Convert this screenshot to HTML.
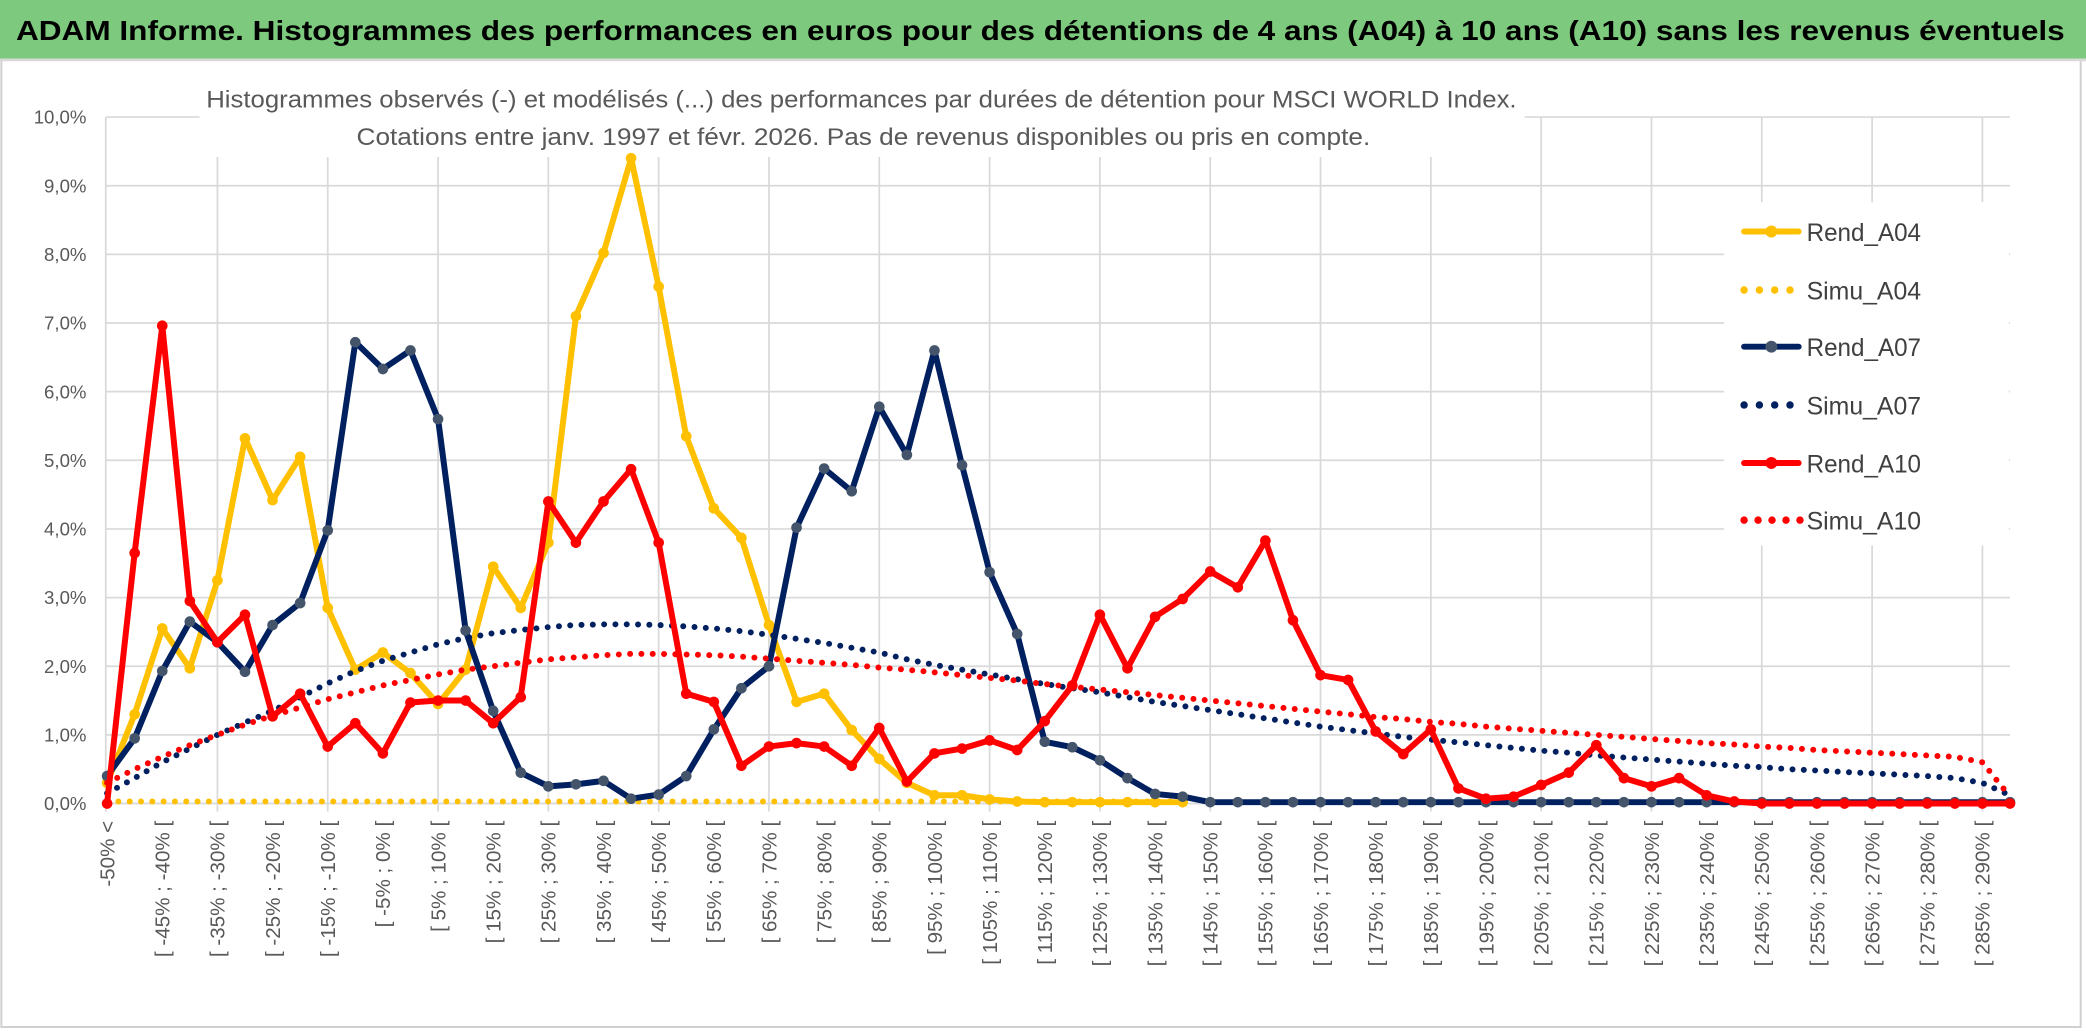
<!DOCTYPE html>
<html><head><meta charset="utf-8"><title>ADAM Informe histogrammes</title>
<style>
html,body{margin:0;padding:0;background:#fff;}
svg{display:block;}
text{font-family:"Liberation Sans",sans-serif;}
</style></head>
<body>
<svg id="chart" width="2086" height="1031" viewBox="0 0 1568 775" preserveAspectRatio="none" xmlns="http://www.w3.org/2000/svg">
  <rect x="0" y="0" width="1568" height="775" fill="#ffffff"/>
  <rect x="1" y="45" width="1563" height="727" fill="#fff" stroke="#d0d0d0" stroke-width="1.5"/>
  <rect x="0" y="0" width="1568" height="45" fill="#7dc97d"/>
  <line x1="0" y1="45" x2="1568" y2="45" stroke="#d9d9d9" stroke-width="2"/>
  <text x="12" y="30" font-size="21" font-weight="bold" fill="#000" textLength="1540" lengthAdjust="spacingAndGlyphs">ADAM Informe. Histogrammes des performances en euros pour des détentions de 4 ans (A04) à 10 ans (A10) sans les revenus éventuels</text>
  <g id="grid"></g>
  <rect x="150" y="58" width="996" height="60" fill="#fff"/>
  <text x="155" y="81" font-size="18" fill="#595959" textLength="985" lengthAdjust="spacingAndGlyphs">Histogrammes observés (-) et modélisés (...) des performances par durées de détention pour MSCI WORLD Index.</text>
  <text x="268" y="109" font-size="18" fill="#595959" textLength="762" lengthAdjust="spacingAndGlyphs">Cotations entre janv. 1997 et févr. 2026. Pas de revenus disponibles ou pris en compte.</text>
  <g id="axes"></g>
  <g id="series"></g>
  <g id="legend"></g>
</svg>
<script>
const categories = [];
categories.push("-50% <");
for (let i = 1; i < 70; i++) { const a = -50 + 5 * (i - 1); categories.push("[ " + a + "% ; " + (a + 5) + "% ["); }

const yTicks = ["0,0%","1,0%","2,0%","3,0%","4,0%","5,0%","6,0%","7,0%","8,0%","9,0%","10,0%"];

const rendA04 = [0.3,1.3,2.55,1.97,3.25,5.32,4.42,5.05,2.85,1.95,2.2,1.9,1.45,1.95,3.45,2.85,3.8,7.1,8.02,9.4,7.53,5.35,4.3,3.87,2.6,1.48,1.6,1.07,0.65,0.3,0.12,0.12,0.06,0.03,0.02,0.02,0.02,0.02,0.02,0.02];
const simuA04 = [0.03,0.03,0.03,0.03,0.03,0.03,0.03,0.03,0.03,0.03,0.03,0.03,0.03,0.03,0.03,0.03,0.03,0.03,0.03,0.03,0.03,0.03,0.03,0.03,0.03,0.03,0.03,0.03,0.03,0.03,0.03,0.03,0.03,0.03,0.03,0.03,0.03,0.03,0.03,0.03];
const rendA07 = [0.4,0.95,1.93,2.65,2.35,1.92,2.6,2.92,3.98,6.72,6.33,6.6,5.6,2.52,1.35,0.45,0.25,0.28,0.33,0.07,0.13,0.4,1.08,1.68,2.0,4.02,4.88,4.55,5.78,5.08,6.6,4.93,3.37,2.47,0.9,0.82,0.63,0.37,0.14,0.1,0.02,0.02,0.02,0.02,0.02,0.02,0.02,0.02,0.02,0.02,0.02,0.02,0.02,0.02,0.02,0.02,0.02,0.02,0.02,0.02,0.02,0.02,0.02,0.02,0.02,0.02,0.02,0.02,0.02,0.02];
const simuA07 = [0.15,0.37,0.6,0.8,1.0,1.18,1.35,1.55,1.75,1.93,2.08,2.2,2.32,2.41,2.48,2.53,2.57,2.6,2.61,2.61,2.6,2.58,2.55,2.51,2.46,2.4,2.34,2.27,2.2,2.1,2.02,1.95,1.88,1.81,1.74,1.68,1.62,1.55,1.48,1.42,1.36,1.3,1.24,1.18,1.12,1.07,1.02,0.97,0.93,0.89,0.85,0.81,0.77,0.74,0.7,0.67,0.64,0.61,0.58,0.55,0.53,0.5,0.48,0.46,0.44,0.42,0.4,0.37,0.3,0.12];
const rendA10 = [0,3.65,6.96,2.95,2.35,2.75,1.27,1.6,0.83,1.17,0.73,1.47,1.5,1.5,1.17,1.55,4.4,3.8,4.4,4.87,3.8,1.6,1.48,0.55,0.83,0.88,0.83,0.55,1.1,0.32,0.73,0.8,0.92,0.78,1.2,1.72,2.75,1.97,2.72,2.98,3.38,3.15,3.83,2.67,1.87,1.8,1.05,0.72,1.08,0.22,0.07,0.1,0.27,0.45,0.85,0.37,0.25,0.37,0.12,0.03,0,0,0,0,0,0,0,0,0,0];
const simuA10 = [0.3,0.5,0.68,0.85,1.0,1.15,1.28,1.4,1.52,1.62,1.72,1.8,1.88,1.95,2.0,2.05,2.1,2.13,2.16,2.18,2.18,2.17,2.16,2.14,2.11,2.08,2.05,2.02,1.98,1.95,1.91,1.87,1.83,1.79,1.74,1.7,1.66,1.62,1.58,1.54,1.5,1.46,1.42,1.38,1.34,1.3,1.26,1.23,1.19,1.16,1.12,1.09,1.06,1.03,1.0,0.97,0.94,0.91,0.88,0.86,0.83,0.81,0.78,0.76,0.74,0.72,0.7,0.68,0.6,0.1];

const NS = "http://www.w3.org/2000/svg";
const X0 = 80.5, XSTEP = 20.73, Y0 = 604, YSTEP = 51.6;
function xs(i) { return X0 + i * XSTEP; }
function ys(v) { return Y0 - v * YSTEP; }
function mk(tag, attrs, parent) {
  const e = document.createElementNS(NS, tag);
  for (const k in attrs) e.setAttribute(k, attrs[k]);
  parent.appendChild(e);
  return e;
}

const grid = document.getElementById("grid");
const axes = document.getElementById("axes");
const xEnd = xs(categories.length - 1);
for (let t = 0; t < yTicks.length; t++) {
  const gl = mk("line", {x1: X0 - 1, x2: xEnd, y1: ys(t), y2: ys(t), stroke: "#d9d9d9", "stroke-width": 1.3}, grid);
  
  
  const lb = mk("text", {x: 65, y: ys(t) + 5, "text-anchor": "end", "font-size": 14, fill: "#595959"}, axes);
  lb.textContent = yTicks[t];
  
  
}
mk("line", {x1: X0 - 1, x2: X0 - 1, y1: ys(10), y2: Y0 + 6, stroke: "#d9d9d9", "stroke-width": 1.3}, grid);
for (let i = 4; i < categories.length; i += 4) {
  const vl = mk("line", {x1: xs(i), x2: xs(i), y1: ys(10), y2: Y0 + 6, stroke: "#d9d9d9", "stroke-width": 1.3}, grid);
  
  
}
for (let i = 0; i < categories.length; i += 2) {
  const tx = mk("text", {x: 0, y: 0, "text-anchor": "end", "font-size": 15.5, fill: "#595959",
    transform: "translate(" + (xs(i) + 5.5) + "," + 617 + ") rotate(-90)"}, axes);
  tx.textContent = categories[i];
  
  
}

const series = document.getElementById("series");
function pts(arr) { return arr.map((v, i) => xs(i).toFixed(1) + "," + ys(v).toFixed(1)).join(" "); }
function solid(arr, color, mcolor, name) {
  const g = mk("g", {}, series);
  
  
  const pl = mk("polyline", {points: pts(arr), fill: "none", stroke: color, "stroke-width": 4.5, "stroke-linejoin": "round"}, g);
  
  
  arr.forEach((v, i) => {
    const c = mk("circle", {cx: xs(i), cy: ys(v), r: 4, fill: mcolor}, g);
    
    
  });
}
function dotted(arr, color, name) {
  const pl = mk("polyline", {points: pts(arr), fill: "none", stroke: color, "stroke-width": 4.5, "stroke-linecap": "round", "stroke-dasharray": "0 8.5"}, series);
  
  
}
solid(rendA04, "#ffc000", "#ffc000", "rend-a04");
dotted(simuA04, "#ffc000", "simu-a04");
solid(rendA07, "#002060", "#44546a", "rend-a07");
dotted(simuA07, "#002060", "simu-a07");
solid(rendA10, "#ff0000", "#ff0000", "rend-a10");
dotted(simuA10, "#ff0000", "simu-a10");

const legend = document.getElementById("legend");
mk("rect", {x: 1296, y: 152, width: 214, height: 258, fill: "#fff"}, legend);
const legNames = ["Rend_A04","Simu_A04","Rend_A07","Simu_A07","Rend_A10","Simu_A10"];
const legColors = ["#ffc000","#ffc000","#002060","#002060","#ff0000","#ff0000"];
const legMarker = ["#ffc000","","#44546a","","#ff0000",""];
const legY = [174, 218, 260.6, 304.4, 348, 391];
for (let k = 0; k < legNames.length; k++) {
  const g = mk("g", {}, legend);
  
  
  if (legMarker[k]) {
    mk("line", {x1: 1311, x2: 1352, y1: legY[k], y2: legY[k], stroke: legColors[k], "stroke-width": 4.5, "stroke-linecap": "round"}, g);
    mk("circle", {cx: 1331.5, cy: legY[k], r: 4.5, fill: legMarker[k]}, g);
  } else {
    const n = k === 5 ? 5 : 4;
    for (let d = 0; d < n; d++) mk("circle", {cx: 1311 + d * (k === 5 ? 10.5 : 11.5), cy: legY[k], r: 2.8, fill: legColors[k]}, g);
  }
  const t = mk("text", {x: 1358, y: legY[k] + 7, "font-size": 19, fill: "#404040", textLength: 86, lengthAdjust: "spacingAndGlyphs"}, g);
  t.textContent = legNames[k];
}
</script>
</body></html>
